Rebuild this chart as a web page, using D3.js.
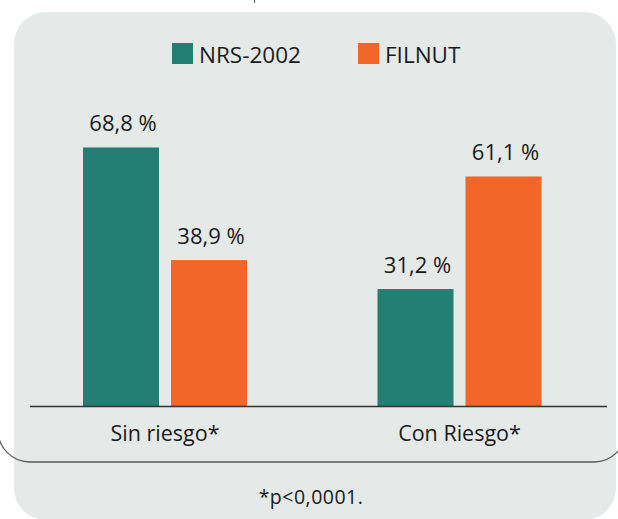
<!DOCTYPE html>
<html><head><meta charset="utf-8">
<script src="https://cdn.jsdelivr.net/npm/d3@7"></script>
<style>html,body{margin:0;padding:0;background:#fff;}svg{display:block;}</style>
</head><body>
<svg id="c" width="618" height="519"></svg>
<script>
const categories = ["Sin riesgo*", "Con Riesgo*"];
const seriesNames = ["NRS-2002", "FILNUT"];
const nrs2002 = [68.8, 31.2];
const filnut = [38.9, 61.1];
const valueLabels = [["68,8 %", "38,9 %"], ["31,2 %", "61,1 %"]];
const footnote = "*p<0,0001.";
const colors = ["#237f73", "#f2662a"];

const svg = d3.select("#c");
const font = "'Open Sans', sans-serif";

// background panel
svg.append("rect").attr("x", 14).attr("y", 12).attr("width", 602).attr("height", 508)
  .attr("rx", 32).attr("ry", 32).attr("fill", "#e5e9e8");
// inner outlined box (mostly off-canvas on top/sides)
svg.append("rect").attr("x", -2).attr("y", -60).attr("width", 628).attr("height", 522)
  .attr("rx", 32).attr("ry", 32).attr("fill", "none").attr("stroke", "#5a5a5a").attr("stroke-width", 1.3);
// tiny cut-off mark at top
svg.append("line").attr("x1", 254.5).attr("x2", 254.5).attr("y1", 0).attr("y2", 3)
  .attr("stroke", "#666").attr("stroke-width", 1.2);

const data = categories.map((c, i) => ({cat: c, vals: [nrs2002[i], filnut[i]]}));

const x0 = d3.scaleBand().domain(categories).range([17.75, 606.75]).padding(0);
const groupW = 164;
const x1 = d3.scaleBand().domain(seriesNames).range([0, groupW]).paddingInner(12 / 88).paddingOuter(0);
const y = d3.scaleLinear().domain([0, 100]).range([406.5, 406.5 - 376.5]);

const g = svg.append("g");
const groups = g.selectAll("g.grp").data(data).join("g")
  .attr("transform", d => `translate(${x0(d.cat) + (x0.bandwidth() - groupW) / 2},0)`);

groups.selectAll("rect").data((d, i) => d.vals.map((v, j) => ({v, j, i}))).join("rect")
  .attr("x", d => x1(seriesNames[d.j]))
  .attr("width", x1.bandwidth())
  .attr("y", d => y(d.v))
  .attr("height", d => y(0) - y(d.v))
  .attr("fill", d => colors[d.j]);

groups.selectAll("text.val").data((d, i) => d.vals.map((v, j) => ({v, j, i}))).join("text")
  .attr("class", "val")
  .attr("x", d => x1(seriesNames[d.j]) + x1.bandwidth() / 2 + 2)
  .attr("y", d => y(d.v) - 16.5)
  .attr("text-anchor", "middle")
  .attr("font-family", font).attr("font-size", 22).attr("fill", "#1a1a1a")
  .text(d => valueLabels[d.i][d.j]);

// x axis
const xAxis = d3.axisBottom(x0).tickSize(0).tickPadding(0);
const ax = svg.append("g").attr("transform", `translate(0,${y(0)})`).call(xAxis);
ax.select(".domain").remove();
ax.append("line").attr("x1", 30).attr("x2", 607).attr("y1", 0).attr("y2", 0)
  .attr("stroke", "#333").attr("stroke-width", 1.6);
ax.selectAll(".tick text").attr("font-family", font).attr("font-size", 21.5)
  .attr("fill", "#1a1a1a").attr("dy", null).attr("y", 34.5);

// legend
const leg = svg.append("g");
const legX = [172, 358];
seriesNames.forEach((s, i) => {
  leg.append("rect").attr("x", legX[i]).attr("y", 43).attr("width", 21).attr("height", 21).attr("fill", colors[i]);
  leg.append("text").attr("x", legX[i] + 27).attr("y", 63).attr("font-family", font).attr("font-size", 22.5)
    .attr("fill", "#1a1a1a").text(s);
});

// footnote
svg.append("text").attr("x", 311).attr("y", 503.5).attr("text-anchor", "middle")
  .attr("font-family", font).attr("font-size", 19.5).attr("letter-spacing", 0.5)
  .attr("fill", "#1a1a1a").text(footnote);
</script>
</body></html>
